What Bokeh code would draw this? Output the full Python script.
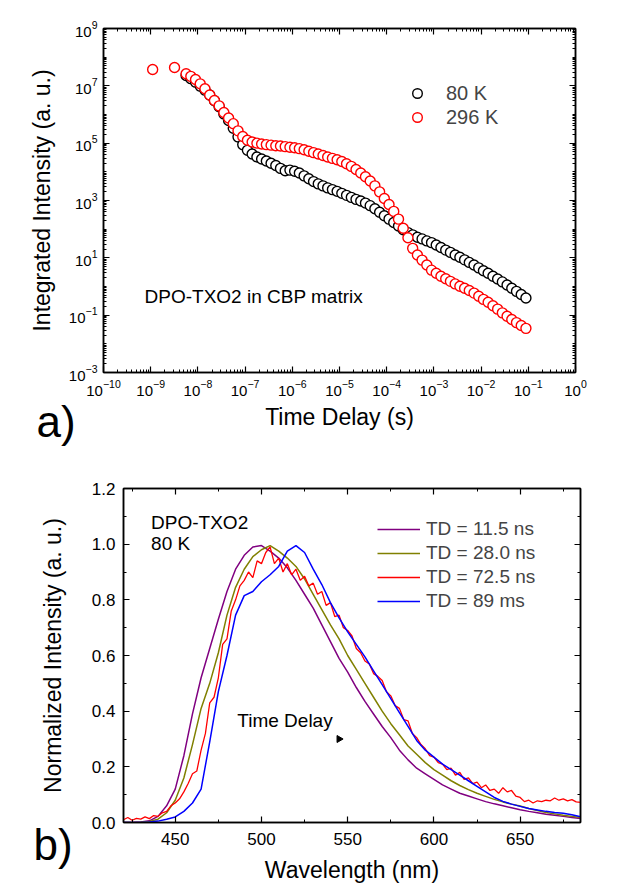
import numpy as np
from bokeh.plotting import figure
from bokeh.models import (LogAxis, LinearAxis, FixedTicker, Legend, LegendItem, Label, Title,
                          Range1d, CustomJSTickFormatter, NumeralTickFormatter)
from bokeh.embed import file_html
from bokeh.resources import INLINE

FONT = "Liberation Sans"

# ======================= panel a: integrated intensity decay =======================
time_s = [5.62e-9, 7.08e-9, 8.91e-9,
          1.12e-8, 1.41e-8, 1.78e-8, 2.24e-8, 2.82e-8, 3.55e-8, 4.47e-8, 5.62e-8, 7.08e-8, 8.91e-8,
          1.12e-7, 1.41e-7, 1.78e-7, 2.24e-7, 2.82e-7, 3.55e-7, 4.47e-7, 5.62e-7, 7.08e-7, 8.91e-7,
          1.12e-6, 1.41e-6, 1.78e-6, 2.24e-6, 2.82e-6, 3.55e-6, 4.47e-6, 5.62e-6, 7.08e-6, 8.91e-6,
          1.12e-5, 1.41e-5, 1.78e-5, 2.24e-5, 2.82e-5, 3.55e-5, 4.47e-5, 5.62e-5, 7.08e-5, 8.91e-5,
          1.12e-4, 1.41e-4, 1.78e-4, 2.24e-4, 2.82e-4, 3.55e-4, 4.47e-4, 5.62e-4, 7.08e-4, 8.91e-4,
          1.12e-3, 1.41e-3, 1.78e-3, 2.24e-3, 2.82e-3, 3.55e-3, 4.47e-3, 5.62e-3, 7.08e-3, 8.91e-3,
          1.12e-2, 1.41e-2, 1.78e-2, 2.24e-2, 2.82e-2, 3.55e-2, 4.47e-2, 5.62e-2, 7.08e-2, 8.91e-2]

# log10 of integrated intensity (a. u.)
log_I_80K = [7.36, 7.25, 7.13,
             6.99, 6.85, 6.68, 6.48, 6.27, 6.02, 5.79, 5.52, 5.22, 4.95,
             4.75, 4.62, 4.52, 4.45, 4.38, 4.30, 4.22, 4.12, 4.04, 4.06,
             4.02, 3.96, 3.86, 3.76, 3.66, 3.58, 3.51, 3.44, 3.38, 3.32,
             3.25, 3.18, 3.11, 3.04, 2.98, 2.91, 2.82, 2.71, 2.59, 2.47,
             2.35, 2.23, 2.11, 1.98, 1.88, 1.80, 1.72, 1.66, 1.59, 1.53,
             1.45, 1.36, 1.27, 1.19, 1.10, 1.02, 0.93, 0.84, 0.75, 0.65,
             0.55, 0.46, 0.36, 0.26, 0.16, 0.05, -0.06, -0.17, -0.28, -0.40]

log_I_296K = [7.42, 7.33, 7.22,
              7.07, 6.90, 6.68, 6.49, 6.30, 6.07, 5.88, 5.68, 5.43, 5.23,
              5.10, 5.04, 5.00, 4.97, 4.95, 4.93, 4.91, 4.90, 4.88, 4.86,
              4.84, 4.81, 4.77, 4.72, 4.67, 4.62, 4.57, 4.52, 4.47, 4.42,
              4.36, 4.28, 4.19, 4.08, 3.96, 3.83, 3.68, 3.51, 3.30, 3.07,
              2.86, 2.62, 2.35, 2.03, 1.70, 1.33, 1.10, 0.92, 0.75, 0.57,
              0.46, 0.36, 0.27, 0.18, 0.09, 0.01, -0.06, -0.14, -0.23, -0.34,
              -0.45, -0.55, -0.67, -0.79, -0.92, -1.04, -1.15, -1.26, -1.36, -1.46]

time_296K_early = [1.1e-9, 3.2e-9]
log_I_296K_early = [7.57, 7.64]

series_a = ["80 K", "296 K"]
colors_a = ["black", "#ff0000"]

# ======================= panel b: normalized spectra =======================
wavelength_nm = [420, 425, 430, 435, 440, 445, 450, 455, 460, 465,
                 470, 475, 480, 485, 490, 495, 500, 505, 510, 515,
                 520, 525, 530, 535, 540, 545, 550, 555, 560, 565,
                 570, 575, 580, 585, 590, 595, 600, 605, 610, 615,
                 620, 625, 630, 635, 640, 645, 650, 655, 660, 665,
                 670, 675, 680, 685]

td_11_5ns = [0.000, 0.000, 0.002, 0.006, 0.022, 0.06, 0.12, 0.24, 0.39, 0.52,
             0.625, 0.73, 0.83, 0.91, 0.96, 0.99, 0.995, 0.975, 0.95, 0.915,
             0.87, 0.82, 0.77, 0.71, 0.65, 0.59, 0.54, 0.485, 0.435, 0.39,
             0.345, 0.305, 0.26, 0.225, 0.195, 0.175, 0.155, 0.135, 0.12, 0.105,
             0.095, 0.085, 0.075, 0.067, 0.06, 0.053, 0.046, 0.040, 0.035, 0.030,
             0.026, 0.022, 0.018, 0.014]

td_28_0ns = [0.000, 0.000, 0.001, 0.004, 0.012, 0.035, 0.08, 0.16, 0.28, 0.41,
             0.50, 0.61, 0.745, 0.845, 0.91, 0.955, 0.98, 0.995, 0.975, 0.95,
             0.92, 0.875, 0.82, 0.765, 0.71, 0.66, 0.60, 0.55, 0.50, 0.45,
             0.40, 0.355, 0.315, 0.275, 0.245, 0.215, 0.19, 0.17, 0.15, 0.133,
             0.118, 0.105, 0.094, 0.083, 0.074, 0.066, 0.059, 0.05, 0.043, 0.036,
             0.031, 0.026, 0.022, 0.018]

td_89ms = [0.000, 0.000, 0.000, 0.002, 0.005, 0.012, 0.02, 0.04, 0.07, 0.12,
           0.29, 0.47, 0.60, 0.745, 0.815, 0.83, 0.865, 0.89, 0.92, 0.975,
           0.995, 0.97, 0.91, 0.855, 0.79, 0.735, 0.685, 0.64, 0.595, 0.545,
           0.495, 0.445, 0.395, 0.345, 0.295, 0.26, 0.235, 0.21, 0.19, 0.17,
           0.15, 0.13, 0.11, 0.09, 0.076, 0.066, 0.058, 0.05, 0.045, 0.04,
           0.036, 0.033, 0.028, 0.021]

wavelength_red_nm = [420, 422.5, 425, 427.5, 430, 432.5, 435, 437.5, 440, 442.5,
                     445, 447.5, 450, 452.5, 455, 457.5, 460, 462.5, 465, 467.5,
                     470, 472.5, 475, 477.5, 480, 482.5, 485, 487.5, 490, 492.5,
                     495, 497.5, 500, 502.5, 505, 507.5, 510, 512.5, 515, 517.5,
                     520, 522.5, 525, 527.5, 530, 532.5, 535, 537.5, 540, 542.5,
                     545, 547.5, 550, 552.5, 555, 557.5, 560, 562.5, 565, 567.5,
                     570, 572.5, 575, 577.5, 580, 582.5, 585, 587.5, 590, 592.5,
                     595, 597.5, 600, 602.5, 605, 607.5, 610, 612.5, 615, 617.5,
                     620, 622.5, 625, 627.5, 630, 632.5, 635, 637.5, 640, 642.5,
                     645, 647.5, 650, 652.5, 655, 657.5, 660, 662.5, 665, 667.5,
                     670, 672.5, 675, 677.5, 680, 682.5, 685]

td_72_5ns = [0.010, 0.018, 0.008, 0.015, 0.012, 0.020, 0.014, 0.025, 0.022, 0.035,
             0.040, 0.06, 0.07, 0.085, 0.11, 0.14, 0.175, 0.185, 0.26, 0.32,
             0.43, 0.45, 0.52, 0.64, 0.66, 0.76, 0.80, 0.85, 0.87, 0.90,
             0.88, 0.94, 0.93, 0.97, 0.99, 0.93, 0.95, 0.90, 0.93, 0.89,
             0.91, 0.87, 0.885, 0.85, 0.86, 0.82, 0.83, 0.78, 0.79, 0.74,
             0.745, 0.70, 0.69, 0.67, 0.625, 0.61, 0.58, 0.57, 0.535, 0.525,
             0.51, 0.47, 0.455, 0.42, 0.41, 0.37, 0.365, 0.32, 0.305, 0.28,
             0.265, 0.24, 0.235, 0.215, 0.21, 0.19, 0.195, 0.17, 0.18, 0.155,
             0.16, 0.14, 0.145, 0.125, 0.135, 0.115, 0.12, 0.105, 0.125, 0.11,
             0.115, 0.095, 0.09, 0.075, 0.08, 0.07, 0.078, 0.075, 0.08, 0.078,
             0.088, 0.08, 0.085, 0.078, 0.082, 0.074, 0.072]

labels_b = ["TD = 11.5 ns", "TD = 28.0 ns", "TD = 72.5 ns", "TD = 89 ms"]
colors_b = ["#800080", "#808000", "#ff0000", "#0000ff"]


def style_axis(ax, tick_size, show_labels=True):
    ax.axis_line_color = "black"
    ax.axis_line_width = 1.5
    ax.major_tick_line_color = "black"
    ax.minor_tick_line_color = "black"
    ax.major_tick_line_width = 1.2
    ax.minor_tick_line_width = 1.0
    ax.major_tick_in = 6
    ax.major_tick_out = 0
    ax.minor_tick_in = 3
    ax.minor_tick_out = 0
    ax.major_label_text_font = FONT
    ax.major_label_text_font_size = tick_size
    ax.major_label_text_color = "black"
    ax.axis_label_text_font = FONT
    ax.axis_label_text_font_size = "23px"
    ax.axis_label_text_font_style = "normal"
    ax.axis_label_text_color = "black"
    if not show_labels:
        ax.formatter = CustomJSTickFormatter(code="return ''")
        ax.major_label_standoff = 0
        ax.major_label_text_font_size = "0px"


def panel_tag(text, offset, standoff):
    return Title(text=text, text_font=FONT, text_font_size="44px", text_font_style="normal",
                 text_color="black", align="left", offset=offset,
                 vertical_align="top", standoff=standoff)


# ---------------- figure a ----------------
pa = figure(width=625, height=455, x_axis_type="log", y_axis_type="log",
            x_range=Range1d(1e-10, 1), y_range=Range1d(1e-3, 1e9),
            output_backend="svg", toolbar_location=None,
            min_border_left=103, min_border_right=50, min_border_top=28, min_border_bottom=83)
pa.grid.visible = False
pa.outline_line_color = "black"
pa.outline_line_width = 1.5
pa.background_fill_color = "white"
pa.border_fill_color = "white"

x_major = [10.0 ** e for e in range(-10, 1)]
x_minor = [k * 10.0 ** e for e in range(-10, 0) for k in range(2, 10)]
y_major = [10.0 ** e for e in range(-3, 10, 2)]
y_minor = [k * 10.0 ** e for e in range(-3, 9) for k in range(1, 10) if not (k == 1 and e % 2 != 0)]

pa.add_layout(LogAxis(), "above")
pa.add_layout(LogAxis(), "right")
for ax in pa.below + pa.above:
    ax.ticker = FixedTicker(ticks=x_major, minor_ticks=x_minor)
for ax in pa.left + pa.right:
    ax.ticker = FixedTicker(ticks=y_major, minor_ticks=y_minor)
style_axis(pa.below[0], "15px")
style_axis(pa.left[0], "15px")
style_axis(pa.above[0], "15px", False)
style_axis(pa.right[0], "15px", False)
pa.below[0].axis_label = "Time Delay (s)"
pa.left[0].axis_label = "Integrated Intensity (a. u.)"
pa.below[0].major_label_standoff = 7
pa.below[0].axis_label_standoff = 5
pa.left[0].major_label_standoff = 6
pa.left[0].axis_label_standoff = 11

I80 = [10.0 ** v for v in log_I_80K]
I296 = [10.0 ** v for v in log_I_296K_early + log_I_296K]
t296 = time_296K_early + time_s

r80 = pa.scatter(time_s, I80, marker="circle", size=10, line_color=colors_a[0],
                 fill_color="white", line_width=1.4)
r296 = pa.scatter(t296, I296, marker="circle", size=10, line_color=colors_a[1],
                  fill_color="white", line_width=1.4)

leg_a = Legend(items=[LegendItem(label=series_a[0], renderers=[r80]),
                      LegendItem(label=series_a[1], renderers=[r296])],
               location=(302, 243), orientation="vertical",
               border_line_color=None, background_fill_alpha=0,
               padding=0, margin=0, spacing=0,
               glyph_width=24, glyph_height=24, label_height=24, label_standoff=17,
               label_text_font=FONT, label_text_font_size="20px")
pa.add_layout(leg_a)

pa.add_layout(Label(x=7.4e-10, y=0.45, text="DPO-TXO2 in CBP matrix", text_font=FONT,
                    text_font_size="19px", text_baseline="middle", text_color="black"))
pa.add_layout(panel_tag("a)", -67, -72), "below")

# ---------------- figure b ----------------
pb = figure(width=625, height=430, x_range=Range1d(420, 685), y_range=Range1d(0, 1.2),
            output_backend="svg", toolbar_location=None,
            min_border_left=123, min_border_right=45, min_border_top=33, min_border_bottom=61)
pb.grid.visible = False
pb.outline_line_color = "black"
pb.outline_line_width = 1.5
pb.background_fill_color = "white"
pb.border_fill_color = "white"

pb.add_layout(LinearAxis(), "above")
pb.add_layout(LinearAxis(), "right")
for ax in pb.below + pb.above:
    ax.ticker = FixedTicker(ticks=[450, 500, 550, 600, 650], minor_ticks=[425, 475, 525, 575, 625, 675])
for ax in pb.left + pb.right:
    ax.ticker = FixedTicker(ticks=[0, 0.2, 0.4, 0.6, 0.8, 1.0, 1.2],
                            minor_ticks=[0.1, 0.3, 0.5, 0.7, 0.9, 1.1])
style_axis(pb.below[0], "17px")
style_axis(pb.left[0], "17px")
style_axis(pb.above[0], "17px", False)
style_axis(pb.right[0], "17px", False)
pb.left[0].formatter = NumeralTickFormatter(format="0.0")
pb.below[0].axis_label = "Wavelength (nm)"
pb.left[0].axis_label = "Normalized Intensity (a. u.)"
pb.below[0].major_label_standoff = 10
pb.below[0].axis_label_standoff = 9
pb.left[0].major_label_standoff = 8
pb.left[0].axis_label_standoff = 23

rb = []
rb.append(pb.line(wavelength_nm, td_11_5ns, line_color=colors_b[0], line_width=1.5))
rb.append(pb.line(wavelength_nm, td_28_0ns, line_color=colors_b[1], line_width=1.5))
rb.append(pb.line(wavelength_red_nm, td_72_5ns, line_color=colors_b[2], line_width=1.3))
rb.append(pb.line(wavelength_nm, td_89ms, line_color=colors_b[3], line_width=1.5))

leg_b = Legend(items=[LegendItem(label=l, renderers=[r]) for l, r in zip(labels_b, rb)],
               location=(254, 209), orientation="vertical",
               border_line_color=None, background_fill_alpha=0,
               padding=0, margin=0, spacing=0,
               glyph_width=43, glyph_height=24, label_height=24, label_standoff=6,
               label_text_font=FONT, label_text_font_size="19px")
pb.add_layout(leg_b)

pb.add_layout(Label(x=436, y=1.079, text="DPO-TXO2", text_font=FONT, text_font_size="19px",
                    text_baseline="middle", text_color="black"))
pb.add_layout(Label(x=436, y=1.004, text="80 K", text_font=FONT, text_font_size="19px",
                    text_baseline="middle", text_color="black"))
pb.add_layout(Label(x=486, y=0.368, text="Time Delay", text_font=FONT, text_font_size="19px",
                    text_baseline="middle", text_color="black"))
pb.scatter([545], [0.30], marker="triangle", angle=-np.pi / 2, size=7,
           fill_color="black", line_color="black")
pb.add_layout(panel_tag("b)", -90, -132), "below")

open("out.html", "w").write(file_html([pa, pb], INLINE))
